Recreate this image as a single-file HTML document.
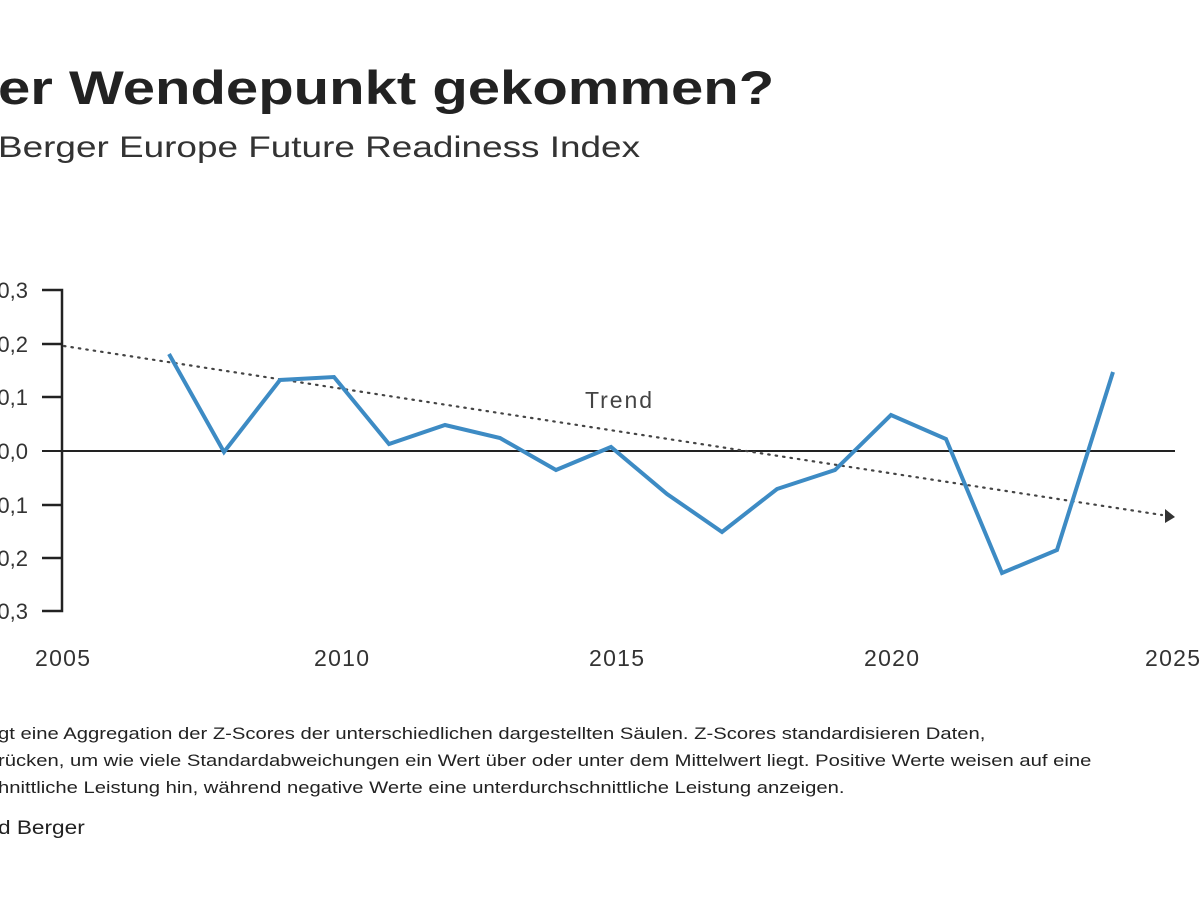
<!DOCTYPE html>
<html><head><meta charset="utf-8"><style>
html,body{margin:0;padding:0;background:#fff;}
body{width:1200px;height:900px;overflow:hidden;position:relative;font-family:"Liberation Sans",sans-serif;color:#222;}
.t{position:absolute;white-space:nowrap;transform-origin:0 0;}
</style></head><body>
<div class="t" style="left:-2px;top:60px;font-size:47px;font-weight:bold;transform:scaleX(1.235);">er Wendepunkt gekommen?</div>
<div class="t" style="left:-2px;top:131px;font-size:30px;color:#333;transform:scaleX(1.23);">Berger Europe Future Readiness Index</div>
<svg width="1200" height="900" style="position:absolute;left:0;top:0" font-family="Liberation Sans, sans-serif">
<g stroke="#222" stroke-width="2.5" fill="none">
<path d="M42 290H62V611H42M42 344H62M42 397H62M42 505H62M42 558H62"/>
</g>
<line x1="42" y1="451" x2="1175" y2="451" stroke="#222" stroke-width="2"/>
<g font-size="22" fill="#333" text-anchor="end">
<text x="28" y="298">0,3</text><text x="28" y="352">0,2</text><text x="28" y="405">0,1</text>
<text x="28" y="459">0,0</text><text x="28" y="513">0,1</text><text x="28" y="566">0,2</text><text x="28" y="619">0,3</text>
</g>
<g font-size="23" fill="#333">
<text x="35" y="666" textLength="55">2005</text><text x="314" y="666" textLength="55">2010</text><text x="589" y="666" textLength="55">2015</text><text x="864" y="666" textLength="55">2020</text><text x="1145" y="666" textLength="55">2025</text>
</g>
<line x1="64" y1="346" x2="1162" y2="515" stroke="#444" stroke-width="2.2" stroke-dasharray="1.5 6" stroke-linecap="round"/>
<path d="M1165 509L1175 517L1165 523Z" fill="#333"/>
<text x="585" y="408" font-size="23" fill="#444" textLength="67">Trend</text>
<polyline fill="none" stroke="#3d8bc4" stroke-width="4" stroke-linejoin="miter" points="169,354 224,452 280,380 334,377 389,444 445,425 500,438 556,470 611,447 667,494 722,532 777,489 835,470 891,415 946,439 1002,573 1057,550 1113,372"/>
</svg>
<div class="t" style="left:-2px;top:720px;font-size:17px;line-height:27px;color:#222;transform:scaleX(1.19);">gt eine Aggregation der Z-Scores der unterschiedlichen dargestellten Säulen. Z-Scores standardisieren Daten,<br>rücken, um wie viele Standardabweichungen ein Wert über oder unter dem Mittelwert liegt. Positive Werte weisen auf eine<br>hnittliche Leistung hin, während negative Werte eine unterdurchschnittliche Leistung anzeigen.</div>
<div class="t" style="left:-2px;top:818px;font-size:19px;color:#222;transform:scaleX(1.19);">d Berger</div>
</body></html>
